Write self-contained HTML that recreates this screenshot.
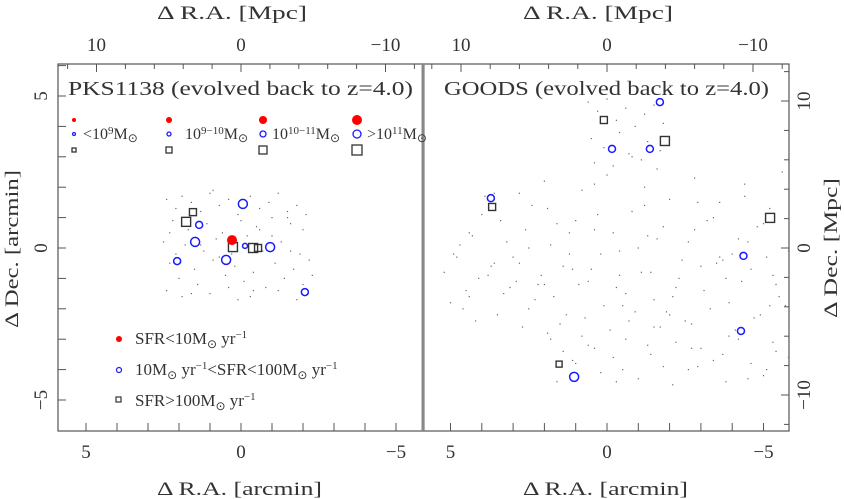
<!DOCTYPE html>
<html><head><meta charset="utf-8">
<style>
html,body{margin:0;padding:0;background:#fff;}
svg{display:block;font-family:"Liberation Serif",serif;}
</style></head>
<body>
<svg id="c" width="844" height="499" viewBox="0 0 844 499"></svg>
<script>
// ---- data (arcmin offsets) ----
const pksDotRA  = [2.4,2.1,1.9,1.6,1.3,1.0,0.7,0.4,0.1,-0.3,-0.6,-0.9,-1.2,-1.5,-1.8,-2.1,2.2,1.7,1.1,0.6,0.0,-0.5,-1.0,-1.6,-2.0,2.5,1.8,1.2,0.8,0.3,-0.2,-0.7,-1.3,-1.9,2.3,1.5,0.9,0.2,-0.4,-1.1,-1.7,-2.2,2.0,1.4,0.5,-0.1,-0.8,-1.4,-2.0,2.4,1.9,1.0,0.4,-0.3,-1.2,-1.8,2.1,1.3,0.7,-0.6,-1.5,-2.3,1.6,0.1,-1.0,2.3,0.9,-0.4,-1.6];
const pksDotDec = [1.6,1.3,1.7,1.5,1.2,1.8,1.4,1.6,1.1,1.7,1.3,1.5,1.8,1.2,1.4,1.1,0.9,0.6,0.8,0.5,0.9,0.7,0.4,0.8,0.6,0.2,0.1,-0.1,0.3,-0.2,0.4,-0.1,0.2,-0.2,-0.5,-0.7,-0.4,-0.6,-0.8,-0.5,-0.7,-0.4,-1.0,-1.2,-0.9,-1.1,-1.3,-1.0,-1.2,-1.4,-1.6,-1.5,-1.3,-1.6,-1.4,-1.7,-0.2,0.1,-0.3,0.6,1.0,-0.9,-1.5,-1.7,1.0,0.5,1.9,-1.4,-0.1];
const pksBlueRA = [-0.06,1.35,1.48,-0.13,-0.94,2.06,0.48,-2.06];
const pksBlueDec= [1.45,0.76,0.2,0.07,0.03,-0.43,-0.39,-1.45];
const pksBlueR  = [4.5,3.5,4.5,2.5,4.5,3.5,4.5,3.5];
const pksSqRA   = [1.55,1.77,0.26,-0.39,-0.55];
const pksSqDec  = [1.18,0.86,0.03,0.0,0.0];
const pksSqS    = [7,9,9,9,7];
const pksRedRA  = [0.29];
const pksRedDec = [0.26];

const gDotRA  = [0.6,0.3,0.0,-0.3,-0.6,-0.9,-1.2,-1.5,-1.8,0.5,0.1,-0.4,-0.8,-1.3,-1.7,0.4,-0.2,-0.7,-1.1,-1.6,
 5.2,4.8,4.4,4.0,3.6,3.2,2.8,2.4,2.0,1.6,1.2,0.8,0.4,0.0,-0.4,-0.8,-1.2,-1.6,-2.0,-2.4,-2.8,-3.2,-3.6,-4.0,-4.4,-4.8,-5.2,-5.6,
 5.0,4.5,4.1,3.7,3.3,2.9,2.5,2.1,1.7,1.3,0.9,0.5,0.1,-0.3,-0.7,-1.1,-1.5,-1.9,-2.3,-2.7,-3.1,-3.5,-3.9,-4.3,-4.7,-5.1,-5.5,
 4.9,4.3,3.8,3.4,3.0,2.6,2.2,1.8,1.4,1.0,0.6,0.2,-0.2,-0.6,-1.0,-1.4,-1.8,-2.2,-2.6,-3.0,-3.4,-3.8,-4.2,-4.6,-5.0,-5.4,-5.8,
 4.6,4.2,3.5,2.7,2.3,1.5,0.7,-0.1,-0.9,-1.7,-2.5,-3.3,-4.1,-4.9,-5.7,
 1.8,1.4,1.0,0.6,0.2,-0.2,-0.6,-1.0,-1.4,-1.8,-2.2,-2.6,-3.0,-3.4,-3.8,-4.2,-4.6,-5.0,-5.4,-5.8,
 1.6,1.1,0.4,-0.5,-1.3,-2.1,-2.9,-3.7,-4.5,-5.3,1.9,0.8,-0.3,-1.5,-2.7,-3.9,-5.1,
 4.7,3.9,3.1,2.5,1.9,1.1,0.3,-0.5,-1.3,-2.1,-2.9,-3.7,-4.5,-5.3,4.4,3.6,2.8,2.0,1.2,0.4,-0.4,-1.2,-2.0,-2.8,-3.6,-4.4,-5.2];
const gDotDec = [4.8,4.5,4.9,4.2,4.6,4.0,4.4,4.7,4.1,3.6,3.3,3.8,3.0,3.5,3.2,2.8,2.7,3.1,2.9,2.6,
 -0.8,-0.3,0.5,1.1,1.8,0.2,-0.5,1.4,2.2,0.8,-0.2,1.9,0.6,2.4,-0.1,1.2,2.0,0.3,1.6,-0.4,2.3,0.9,1.5,-0.2,2.1,0.7,1.3,2.5,
 -1.8,-1.4,-1.0,-0.6,-1.5,-1.1,-2.0,-0.9,-1.6,-2.2,-1.2,-0.7,-1.9,-1.3,-2.4,-0.8,-1.7,-2.1,-1.0,-2.5,-1.4,-0.5,-1.8,-1.1,-2.3,-0.3,-1.6,
 -0.2,0.4,-0.9,0.9,-0.3,0.6,-1.2,0.1,-0.6,0.9,-1.1,-0.2,0.5,-1.5,0.0,-0.8,0.7,-1.3,0.2,-0.6,1.0,-1.0,0.3,-0.7,0.8,-1.2,-0.1,
 -2.0,-2.4,-2.2,-2.6,-1.7,-2.5,-2.3,-2.7,-2.1,-2.6,-2.4,-2.0,-2.7,-2.2,-1.9,
 -3.0,-3.4,-3.8,-3.2,-4.1,-3.6,-3.0,-4.3,-3.5,-3.9,-3.1,-4.0,-3.3,-3.7,-4.4,-3.0,-3.8,-4.2,-3.4,-3.6,
 -4.4,-3.7,-3.3,-4.0,-3.2,-4.5,-3.9,-3.5,-4.3,-3.1,-2.8,-2.9,-4.4,-2.6,-3.3,-2.9,-4.0,
 0.1,1.7,-1.3,0.0,1.3,-0.7,1.1,-1.9,0.4,-1.6,1.5,-0.4,0.2,-0.9,-1.6,-0.5,1.8,-1.2,0.5,2.1,-0.9,1.4,-2.2,0.6,-0.3,1.7,-1.9];
const gBlueRA  = [-1.69,-0.16,-1.37,3.71,-4.36,-4.28,1.05];
const gBlueDec = [4.80,3.26,3.26,1.64,-0.26,-2.73,-4.24];
const gBlueR   = [3.5,3.5,3.5,3.5,3.5,3.5,4.5];
const gSqRA    = [0.10,-1.85,3.67,-5.21,1.53];
const gSqDec   = [4.21,3.52,1.35,0.99,-3.82];
const gSqS     = [7,9,7,9,6];

const raTicks = [5,0,-5];
const decTicks = [5,0,-5];
const mpcTicks = [10,0,-10];

// ---- layout ----
const svg = document.getElementById('c');
const NS='http://www.w3.org/2000/svg';
function mk(tag, attrs, parent){const e=document.createElementNS(NS,tag);for(const k in attrs)e.setAttribute(k,attrs[k]);(parent||svg).appendChild(e);return e;}
const Y0=248, YS=30.4, TOP=64, BOT=431;
const panels=[
 {x0:58,x1:423,cx:241,xs:31,mpcS:14.45,name:'pks',tx:68,tl:345,btx:157},
 {x0:424,x1:789,cx:607,xs:31.3,mpcS:14.6,name:'goods',tx:444,tl:325,btx:523}
];
function yD(d){return Y0-d*YS;}

panels.forEach((p,pi)=>{
 const g=mk('g',{});
 
 
 const xR=r=>p.cx-r*p.xs;
 const fr=mk('rect',{x:p.x0,y:TOP,width:p.x1-p.x0,height:BOT-TOP,fill:'none',stroke:'#555','stroke-width':1.2},g);
 
 
 for(let r=-6;r<=6;r++){const x=xR(r);if(x<p.x0+1||x>p.x1-1)continue;
  mk('line',{x1:x,x2:x,y1:BOT,y2:BOT-8,stroke:'#555'},g);}
 for(let m=-12;m<=12;m+=2){const x=p.cx-m*p.mpcS;if(x<p.x0+1||x>p.x1-1)continue;
  mk('line',{x1:x,x2:x,y1:TOP,y2:TOP+(m%10==0?8:5),stroke:'#555'},g);}
 raTicks.forEach(r=>{const t=mk('text',{x:xR(r),y:458,'font-size':19,'text-anchor':'middle',fill:'#333'},g);t.textContent=r<0?'\u2212'+(-r):r;
  });
 mpcTicks.forEach(m=>{const t=mk('text',{x:p.cx-m*p.mpcS,y:51,'font-size':19,'text-anchor':'middle',fill:'#333'},g);t.textContent=m<0?'\u2212'+(-m):m;
  });
 const bt=mk('text',{x:p.btx,y:495,'font-size':19,fill:'#333',textLength:165,lengthAdjust:'spacingAndGlyphs'},g);
 bt.textContent='\u0394 R.A.   [arcmin]';
 
 const tt=mk('text',{x:p.btx,y:19,'font-size':19,fill:'#333',textLength:150,lengthAdjust:'spacingAndGlyphs'},g);
 tt.textContent='\u0394 R.A.   [Mpc]';
 
 if(pi==0){
  for(let d=-6;d<=6;d++){const y=yD(d);if(y<TOP+1||y>BOT-1)continue;mk('line',{x1:p.x0,x2:p.x0+8,y1:y,y2:y,stroke:'#555'},g);}
  decTicks.forEach(d=>{const t=mk('text',{x:0,y:0,'font-size':19,'text-anchor':'middle',fill:'#333',transform:`translate(47,${yD(d)}) rotate(-90)`},g);t.textContent=d<0?'\u2212'+(-d):d;
   });
  const yt=mk('text',{x:0,y:0,'font-size':19,fill:'#333',textLength:158,lengthAdjust:'spacingAndGlyphs',transform:`translate(18,328) rotate(-90)`},g);
  yt.textContent='\u0394 Dec.   [arcmin]';
 } else {
  for(let m=-12;m<=12;m+=2){const y=Y0-m*14.7;if(y<TOP+1||y>BOT-1)continue;mk('line',{x1:p.x1,x2:p.x1-(m%10==0?8:5),y1:y,y2:y,stroke:'#555'},g);}
  mpcTicks.forEach(m=>{const t=mk('text',{x:0,y:0,'font-size':19,'text-anchor':'middle',fill:'#333',transform:`translate(810,${Y0-m*14.7}) rotate(-90)`},g);t.textContent=m<0?'\u2212'+(-m):m;
   });
  const yt=mk('text',{x:0,y:0,'font-size':19,fill:'#333',textLength:140,lengthAdjust:'spacingAndGlyphs',transform:`translate(837,318) rotate(-90)`},g);
  yt.textContent='\u0394 Dec.   [Mpc]';
 }
 const ti=mk('text',{x:p.tx,y:95,'font-size':20,fill:'#333',textLength:p.tl,lengthAdjust:'spacingAndGlyphs'},g);
 ti.textContent=(pi==0?'PKS1138':'GOODS')+' (evolved back to z=4.0)';
 
 const dRA=pi==0?pksDotRA:gDotRA, dDec=pi==0?pksDotDec:gDotDec;
 for(let i=0;i<dRA.length;i++){const d=mk('rect',{x:xR(dRA[i])-0.6,y:yD(dDec[i])-0.6,width:1.2,height:1.2,fill:'#666'},g);
  }
 const sRA=pi==0?pksSqRA:gSqRA, sDec=pi==0?pksSqDec:gSqDec, sS=pi==0?pksSqS:gSqS;
 for(let i=0;i<sRA.length;i++){const s=sS[i];const q=mk('rect',{x:xR(sRA[i])-s/2,y:yD(sDec[i])-s/2,width:s,height:s,fill:'none',stroke:'#333','stroke-width':1.4},g);
  }
 const bRA=pi==0?pksBlueRA:gBlueRA, bDec=pi==0?pksBlueDec:gBlueDec, bR=pi==0?pksBlueR:gBlueR;
 for(let i=0;i<bRA.length;i++){const c=mk('circle',{cx:xR(bRA[i]),cy:yD(bDec[i]),r:bR[i],fill:'none',stroke:'#1a1aff','stroke-width':1.5},g);
  }
 if(pi==0){for(let i=0;i<pksRedRA.length;i++){const c=mk('circle',{cx:xR(pksRedRA[i]),cy:yD(pksRedDec[i]),r:5,fill:'#f00'},g);
  }}
});
const dv=mk('rect',{x:421.5,y:TOP,width:3,height:BOT-TOP,fill:'#888'});


const lg=mk('g',{});

const mx=[74,169,263,357], rr=[2,3,4,5], cr=[1.5,2,3,4], sq=[4,6,8,10];
const labs=['&lt;10<tspan dy="-5" font-size="11">9</tspan><tspan dy="5">M</tspan><tspan dy="3" font-size="12">\u2299</tspan>',
 '10<tspan dy="-5" font-size="11">9\u221210</tspan><tspan dy="5">M</tspan><tspan dy="3" font-size="12">\u2299</tspan>',
 '10<tspan dy="-5" font-size="11">10\u221211</tspan><tspan dy="5">M</tspan><tspan dy="3" font-size="12">\u2299</tspan>',
 '&gt;10<tspan dy="-5" font-size="11">11</tspan><tspan dy="5">M</tspan><tspan dy="3" font-size="12">\u2299</tspan>'];
const lx=[83,185,272,367];
mx.forEach((x,i)=>{
 mk('circle',{cx:x,cy:120,r:rr[i],fill:'#f00'},lg);
 mk('circle',{cx:x,cy:134,r:cr[i],fill:'none',stroke:'#1a1aff','stroke-width':1.3},lg);
 mk('rect',{x:x-sq[i]/2,y:150-sq[i]/2,width:sq[i],height:sq[i],fill:'none',stroke:'#333','stroke-width':1.3},lg);
 const t=mk('text',{x:lx[i],y:139,'font-size':16,fill:'#333'},lg);t.innerHTML=labs[i];
});
const sg=mk('g',{});

mk('circle',{cx:119,cy:339,r:3,fill:'#f00'},sg);
mk('circle',{cx:119,cy:370,r:2.5,fill:'none',stroke:'#1a1aff','stroke-width':1.2},sg);
mk('rect',{x:116,y:397,width:5,height:5,fill:'none',stroke:'#333','stroke-width':1.2},sg);
const sl=[
 ['SFR&lt;10M<tspan dy="4" font-size="12">\u2299</tspan><tspan dy="-4"> yr</tspan><tspan dy="-6" font-size="11">\u22121</tspan>',344],
 ['10M<tspan dy="4" font-size="12">\u2299</tspan><tspan dy="-4"> yr</tspan><tspan dy="-6" font-size="11">\u22121</tspan><tspan dy="6">&lt;SFR&lt;100M</tspan><tspan dy="4" font-size="12">\u2299</tspan><tspan dy="-4"> yr</tspan><tspan dy="-6" font-size="11">\u22121</tspan>',375],
 ['SFR&gt;100M<tspan dy="4" font-size="12">\u2299</tspan><tspan dy="-4"> yr</tspan><tspan dy="-6" font-size="11">\u22121</tspan>',406]];
sl.forEach(s=>{const t=mk('text',{x:135,y:s[1],'font-size':17,fill:'#333'},sg);t.innerHTML=s[0];});
</script>
</body></html>
